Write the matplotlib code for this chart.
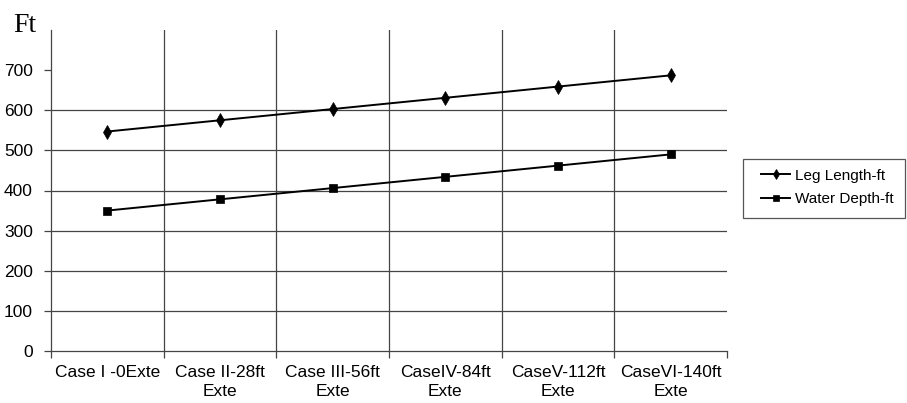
import matplotlib
matplotlib.use('Agg')
import matplotlib.pyplot as plt
from matplotlib.patches import Rectangle
import numpy as np

cases = ['Case I -0Exte', 'Case II-28ft\nExte', 'Case III-56ft\nExte',
         'CaseIV-84ft\nExte', 'CaseV-112ft\nExte', 'CaseVI-140ft\nExte']
leg_length = [547, 575, 603, 631, 659, 687]
water_depth = [350, 378, 406, 434, 462, 490]
y_ticks = [0, 100, 200, 300, 400, 500, 600, 700]

plt.rcParams['font.family'] = ['Liberation Sans', 'DejaVu Sans']

W, H = 907, 403
fig = plt.figure(figsize=(W / 100, H / 100), dpi=100)
ax = fig.add_axes([51 / W, 1 - 351 / H, (727 - 51) / W, (351 - 30) / H])

x = np.arange(len(cases))
ax.plot(x, leg_length, color='black', lw=1.4, marker='d', markersize=7.5,
        markeredgewidth=0.5, label='Leg Length-ft')
ax.plot(x, water_depth, color='black', lw=1.4, marker='s', markersize=6,
        markeredgewidth=0.5, label='Water Depth-ft')

ax.set_xlim(-0.5, len(cases) - 0.5)
ax.set_ylim(0, 800)

# grid lines: category boundaries and 100..600
grid_col = '#444444'
for b in np.arange(0.5, len(cases) - 1, 1.0):
    ax.axvline(b, color=grid_col, lw=0.9, zorder=0)
for v in y_ticks[1:-1]:
    ax.axhline(v, color=grid_col, lw=0.9, zorder=0)

ax.set_yticks(y_ticks)
ax.set_xticks(x)
ax.set_xticklabels(cases, linespacing=1.35)
ax.set_xticks(np.arange(-0.5, len(cases), 1.0), minor=True)
ax.tick_params(axis='x', which='major', length=0, pad=10, labelsize=12.5)
ax.tick_params(axis='x', which='minor', length=5, width=0.9, color=grid_col, direction='out')
ax.tick_params(axis='y', length=5, width=0.9, color=grid_col, pad=8, labelsize=12.5)

for s in ['top', 'right']:
    ax.spines[s].set_visible(False)
for s in ['left', 'bottom']:
    ax.spines[s].set_color(grid_col)
    ax.spines[s].set_linewidth(0.9)

fig.text(13 / W, 1 - 32 / H, 'Ft', family=['Liberation Serif'], fontsize=20,
         va='baseline', ha='left')

# legend with a hand-placed frame like the Excel one
leg = fig.legend(loc='center left', bbox_to_anchor=(761 / W, 1 - 187.5 / H),
                 frameon=False, fontsize=11, handlelength=1.9, handletextpad=0.35,
                 borderpad=0, borderaxespad=0, labelspacing=0.62, markerscale=0.7)
fig.patches.append(Rectangle((743 / W, 1 - 218 / H), (905 - 743) / W, (218 - 159) / H,
                             transform=fig.transFigure, fill=False,
                             edgecolor='#555555', lw=0.9))

fig.savefig('out.png', dpi=100)
